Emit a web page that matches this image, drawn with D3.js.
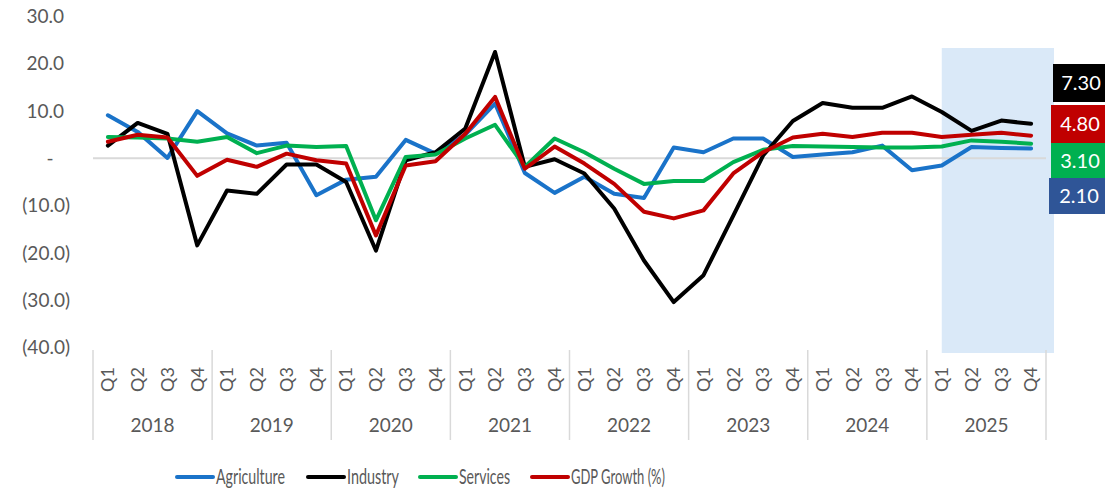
<!DOCTYPE html>
<html><head><meta charset="utf-8">
<script src="https://cdn.jsdelivr.net/npm/d3@7"></script>
<style>body{margin:0;background:#fff;}svg{display:block;font-family:Lato, "Open Sans", sans-serif;}</style>
</head><body>
<svg id="c" width="1105" height="490"></svg>
<script>
const years = ["2018","2019","2020","2021","2022","2023","2024","2025"];
const quarters = ["Q1","Q2","Q3","Q4"];
const agriculture = [9.1,5.6,0.1,10.0, 5.3,2.7,3.3,-7.8, -4.5,-3.9,3.9,1.0, 5.0,11.6,-3.1,-7.3, -3.9,-7.5,-8.4,2.3, 1.3,4.2,4.2,0.3, 0.8,1.3,2.7,-2.5, -1.5,2.4,2.2,2.1];
const industry = [2.7,7.5,5.2,-18.4, -6.8,-7.5,-1.3,-1.3, -5.0,-19.5,-0.4,1.3, 6.3,22.5,-1.8,-0.2, -3.2,-10.6,-21.6,-30.4, -24.7,-12.1,0.6,7.9, 11.7,10.7,10.7,13.1, 9.8,5.8,8.0,7.3];
const services = [4.5,4.4,4.2,3.5, 4.5,1.1,2.7,2.4, 2.6,-13.1,0.3,0.8, 4.2,7.1,-1.8,4.2, 1.3,-2.2,-5.4,-4.8, -4.8,-0.8,1.8,2.6, 2.5,2.4,2.3,2.3, 2.5,3.8,3.5,3.1];
const gdp = [3.5,5.0,4.4,-3.7, -0.3,-1.8,1.0,-0.4, -1.1,-16.3,-1.5,-0.6, 5.2,13.0,-2.2,2.5, -1.1,-5.4,-11.3,-12.7, -11.0,-3.2,1.3,4.4, 5.2,4.5,5.4,5.4, 4.5,5.0,5.4,4.8];
const yTicks = [30,20,10,0,-10,-20,-30,-40];
const seriesNames = ["Agriculture","Industry","Services","GDP Growth (%)"];
const seriesColors = ["#1a73c9","#000000","#00b050","#c00000"];
const lastLabels = ["2.10","7.30","3.10","4.80"];
const labelFills = ["#2f5597","#000000","#00b050","#c00000"];
const highlightFrom = 28; // 2025 Q1

const series = [agriculture, industry, services, gdp];
const cats = [];
years.forEach(y => quarters.forEach(q => cats.push(y + " " + q)));

const svg = d3.select("#c");
const x = d3.scaleBand().domain(d3.range(cats.length)).range([93, 1046]);
const y = d3.scaleLinear().domain([-40, 30]).range([347.5, 16.5]);
const cx = i => x(i) + x.bandwidth() / 2;

// highlight band
svg.append("rect")
  .attr("x", cx(highlightFrom)).attr("y", 48)
  .attr("width", 1054 - cx(highlightFrom)).attr("height", 353 - 48)
  .attr("fill", "#dae9f8");

// y tick labels
const fmt = v => v === 0 ? "-" : (v < 0 ? "(" + d3.format(".1f")(-v) + ")" : d3.format(".1f")(v));
svg.append("g").selectAll("text").data(yTicks).join("text")
  .attr("x", d => d === 0 ? 50 : (d < 0 ? 70 : 64))
  .attr("y", d => y(d))
  .attr("dy", "0.35em")
  .attr("text-anchor", d => d === 0 ? "middle" : "end")
  .attr("fill", "#595959").attr("font-size", 19)
  .text(fmt);

// zero line
svg.append("line").attr("x1", 93).attr("x2", 1046).attr("y1", y(0)).attr("y2", y(0))
  .attr("stroke", "#d9d9d9").attr("stroke-width", 2);

// x axis: year separators
const sepIdx = d3.range(0, cats.length + 1, 4);
svg.append("g").selectAll("line").data(sepIdx).join("line")
  .attr("x1", d => d < cats.length ? x(d) : x(cats.length - 1) + x.bandwidth())
  .attr("x2", d => d < cats.length ? x(d) : x(cats.length - 1) + x.bandwidth())
  .attr("y1", 350).attr("y2", 440)
  .attr("stroke", "#d9d9d9").attr("stroke-width", 1.5);

// quarter labels
svg.append("g").selectAll("text").data(cats).join("text")
  .attr("transform", (d, i) => `translate(${cx(i)},392) rotate(-90)`)
  .attr("dy", "0.35em")
  .attr("text-anchor", "start")
  .attr("fill", "#595959").attr("font-size", 18)
  .text(d => d.split(" ")[1]);

// year labels
svg.append("g").selectAll("text").data(years).join("text")
  .attr("x", (d, i) => (x(i * 4) + x(i * 4 + 3) + x.bandwidth()) / 2)
  .attr("y", 425).attr("dy", "0.35em")
  .attr("text-anchor", "middle")
  .attr("fill", "#595959").attr("font-size", 19)
  .text(d => d);

// lines
const line = d3.line().x((d, i) => cx(i)).y(d => y(d));
series.forEach((s, k) => {
  svg.append("path").datum(s)
    .attr("d", line).attr("fill", "none")
    .attr("stroke", seriesColors[k]).attr("stroke-width", 4)
    .attr("stroke-linejoin", "round").attr("stroke-linecap", "round");
});

// end labels boxes
const boxes = [
  {k:1, y0:64, y1:102, x0:1053},
  {k:3, y0:105, y1:143, x0:1051},
  {k:2, y0:143, y1:178, x0:1051},
  {k:0, y0:178, y1:214, x0:1049}
];
boxes.forEach(b => {
  svg.append("rect").attr("x", b.x0).attr("y", b.y0).attr("width", 1105 - b.x0).attr("height", b.y1 - b.y0)
    .attr("fill", labelFills[b.k]);
  svg.append("text").attr("x", (b.x0 + 1105) / 2 + 2).attr("y", (b.y0 + b.y1) / 2).attr("dy", "0.35em")
    .attr("text-anchor", "middle").attr("fill", "#fff").attr("font-size", 20)
    .text(lastLabels[b.k]);
});

// legend
const legX = [177, 308, 420, 532];
const legW = [69, 52, 51, 94];
const lg = svg.append("g");
seriesNames.forEach((n, k) => {
  lg.append("line").attr("x1", legX[k]).attr("x2", legX[k] + 36).attr("y1", 477).attr("y2", 477)
    .attr("stroke", seriesColors[k]).attr("stroke-width", 4).attr("stroke-linecap", "round");
  lg.append("text").attr("x", legX[k] + 39).attr("y", 477).attr("dy", "0.35em")
    .attr("fill", "#595959").attr("font-size", 21)
    .attr("textLength", legW[k]).attr("lengthAdjust", "spacingAndGlyphs").text(n);
});
</script>
</body></html>
